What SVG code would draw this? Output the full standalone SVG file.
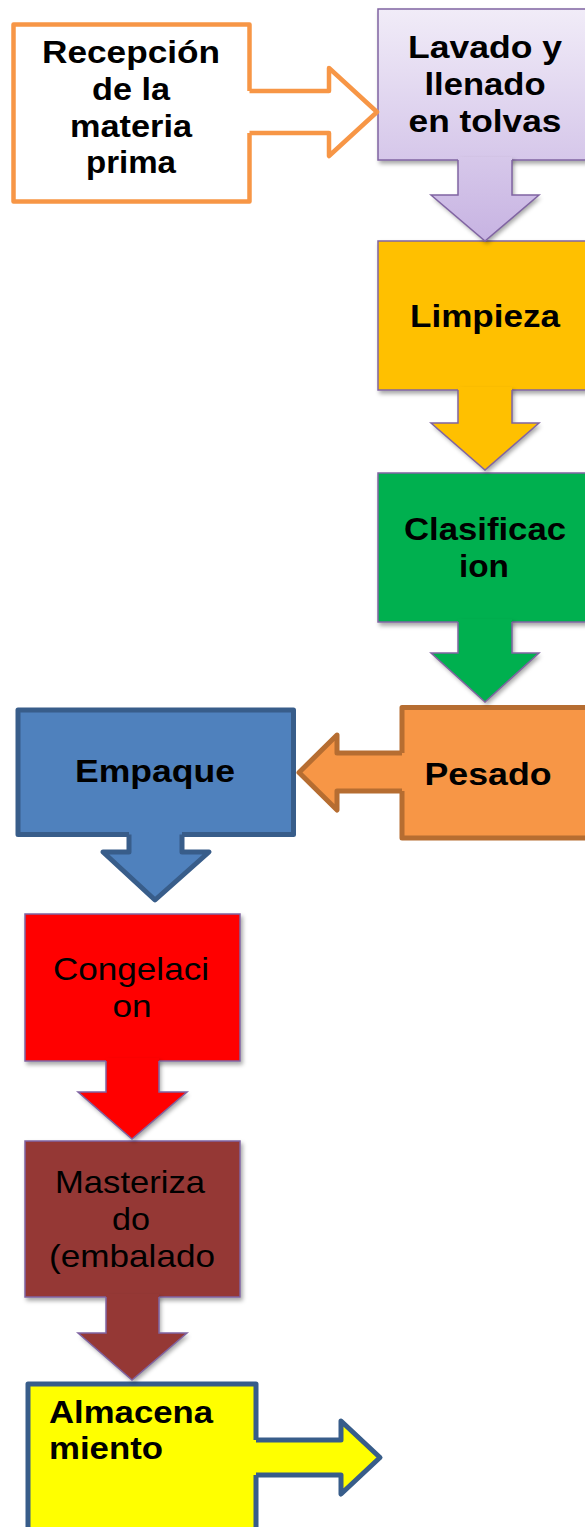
<svg xmlns="http://www.w3.org/2000/svg" width="585" height="1527" viewBox="0 0 585 1527">
<style>
.t{font-family:"Liberation Sans",Arial,sans-serif;font-size:30.5px;font-weight:bold;fill:#000;text-anchor:middle}
.r{font-family:"Liberation Sans",Arial,sans-serif;font-size:30.5px;font-weight:normal;fill:#000;text-anchor:middle}
.l{text-anchor:start}
.pur{stroke:#8064A2;stroke-width:1.5;stroke-linejoin:miter}
.thick{stroke-width:5;stroke-linejoin:round}
</style>
<defs>
<linearGradient id="lav" gradientUnits="userSpaceOnUse" x1="0" y1="9" x2="0" y2="241">
<stop offset="0" stop-color="#F1ECF8"/>
<stop offset="1" stop-color="#C7B3E2"/>
</linearGradient>
<filter id="sh" x="-10%" y="-10%" width="130%" height="130%">
<feDropShadow dx="2" dy="3" stdDeviation="2" flood-color="#000" flood-opacity="0.35"/>
</filter>
</defs>

<g id="recepcion">
<rect x="13.5" y="24.5" width="236" height="177" fill="#FFFFFF" stroke="#F79646" stroke-width="4.5" stroke-linejoin="round"/>
<text class="t" x="131" y="63" textLength="178" lengthAdjust="spacingAndGlyphs">Recepción</text>
<text class="t" x="131" y="100" textLength="78" lengthAdjust="spacingAndGlyphs">de la</text>
<text class="t" x="131" y="137" textLength="122" lengthAdjust="spacingAndGlyphs">materia</text>
<text class="t" x="131" y="173" textLength="90" lengthAdjust="spacingAndGlyphs">prima</text>
</g>

<g id="lavado">
<rect x="378" y="9" width="215" height="151" fill="url(#lav)" class="pur" filter="url(#sh)"/>
<text class="t" x="485" y="58" textLength="154" lengthAdjust="spacingAndGlyphs">Lavado y</text>
<text class="t" x="485" y="95" textLength="121" lengthAdjust="spacingAndGlyphs">llenado</text>
<text class="t" x="485" y="132" textLength="153" lengthAdjust="spacingAndGlyphs">en tolvas</text>
</g>

<g id="limpieza">
<rect x="378" y="241" width="215" height="149" fill="#FFC000" class="pur" filter="url(#sh)"/>
<text class="t" x="485" y="327" textLength="150" lengthAdjust="spacingAndGlyphs">Limpieza</text>
</g>

<g id="clasificacion">
<rect x="378" y="473" width="215" height="149" fill="#00B050" class="pur" filter="url(#sh)"/>
<text class="t" x="485" y="540" textLength="162" lengthAdjust="spacingAndGlyphs">Clasificac</text>
<text class="t" x="484" y="577" textLength="50" lengthAdjust="spacingAndGlyphs">ion</text>
</g>

<g id="pesado">
<rect x="402" y="707.5" width="192" height="130.5" fill="#F79646" stroke="#B66D31" class="thick"/>
<text class="t" x="488" y="785" textLength="127" lengthAdjust="spacingAndGlyphs">Pesado</text>
</g>

<g id="empaque">
<rect x="18" y="710" width="275.5" height="124.5" fill="#4F81BD" stroke="#385D8A" class="thick"/>
<text class="t" x="155" y="782" textLength="160" lengthAdjust="spacingAndGlyphs">Empaque</text>
</g>

<g id="congelacion">
<rect x="25" y="914" width="215" height="147" fill="#FF0000" class="pur" filter="url(#sh)"/>
<text class="r" x="131" y="980" textLength="156" lengthAdjust="spacingAndGlyphs">Congelaci</text>
<text class="r" x="132" y="1017" textLength="39" lengthAdjust="spacingAndGlyphs">on</text>
</g>

<g id="masterizado">
<rect x="25" y="1141" width="215" height="156" fill="#953735" class="pur" filter="url(#sh)"/>
<text class="r" x="130" y="1193" textLength="150" lengthAdjust="spacingAndGlyphs">Masteriza</text>
<text class="r" x="131" y="1230" textLength="38" lengthAdjust="spacingAndGlyphs">do</text>
<text class="r" x="132" y="1267" textLength="166" lengthAdjust="spacingAndGlyphs">(embalado</text>
</g>

<g id="almacenamiento">
<rect x="28" y="1384" width="228" height="160" fill="#FFFF00" stroke="#385D8A" class="thick"/>
<text class="t l" x="49" y="1423" textLength="164" lengthAdjust="spacingAndGlyphs">Almacena</text>
<text class="t l" x="49" y="1459" textLength="114" lengthAdjust="spacingAndGlyphs">miento</text>
</g>

<g id="connectors">
<path d="M245,91 L329,91 L329,68 L377,112 L329,156 L329,133 L245,133 Z" fill="#FFFFFF" stroke="none"/>
<path d="M249.5,91 L329,91 L329,68 L377,112 L329,156 L329,133 L249.5,133" fill="none" stroke="#F79646" stroke-width="4.5" stroke-linejoin="round"/>
<path d="M458,157 L458,195 L431,195 L485,241 L539,195 L512,195 L512,157 Z" fill="url(#lav)" stroke="none" filter="url(#sh)"/>
<path d="M458,160 L458,195 L431,195 L485,241 L539,195 L512,195 L512,160" fill="none" class="pur"/>
<path d="M458,387 L458,423 L431,423 L485,470 L539,423 L512,423 L512,387 Z" fill="#FFC000" stroke="none" filter="url(#sh)"/>
<path d="M458,390 L458,423 L431,423 L485,470 L539,423 L512,423 L512,390" fill="none" class="pur"/>
<path d="M458,619 L458,653 L431,653 L485,702 L539,653 L512,653 L512,619 Z" fill="#00B050" stroke="none" filter="url(#sh)"/>
<path d="M458,622 L458,653 L431,653 L485,702 L539,653 L512,653 L512,622" fill="none" class="pur"/>
<path d="M406,753 L337,753 L337,735 L299,772.5 L337,810 L337,791 L406,791 Z" fill="#F79646" stroke="none"/>
<path d="M402,753 L337,753 L337,735 L299,772.5 L337,810 L337,791 L402,791" fill="none" stroke="#B66D31" class="thick"/>
<path d="M129,830 L129,852 L103,852 L155,900 L209,852 L182,852 L182,830 Z" fill="#4F81BD" stroke="none"/>
<path d="M129,834.5 L129,852 L103,852 L155,900 L209,852 L182,852 L182,834.5" fill="none" stroke="#385D8A" class="thick"/>
<path d="M106,1058 L106,1092 L78,1092 L132,1139 L187,1092 L159,1092 L159,1058 Z" fill="#FF0000" stroke="none" filter="url(#sh)"/>
<path d="M106,1061 L106,1092 L78,1092 L132,1139 L187,1092 L159,1092 L159,1061" fill="none" class="pur"/>
<path d="M106,1294 L106,1333 L78,1333 L132,1380 L187,1333 L159,1333 L159,1294 Z" fill="#953735" stroke="none" filter="url(#sh)"/>
<path d="M106,1297 L106,1333 L78,1333 L132,1380 L187,1333 L159,1333 L159,1297" fill="none" class="pur"/>
<path d="M252,1440 L341,1440 L341,1421 L380,1457.5 L341,1494 L341,1475 L252,1475 Z" fill="#FFFF00" stroke="none"/>
<path d="M256,1440 L341,1440 L341,1421 L380,1457.5 L341,1494 L341,1475 L256,1475" fill="none" stroke="#385D8A" class="thick"/>
</g>
</svg>
